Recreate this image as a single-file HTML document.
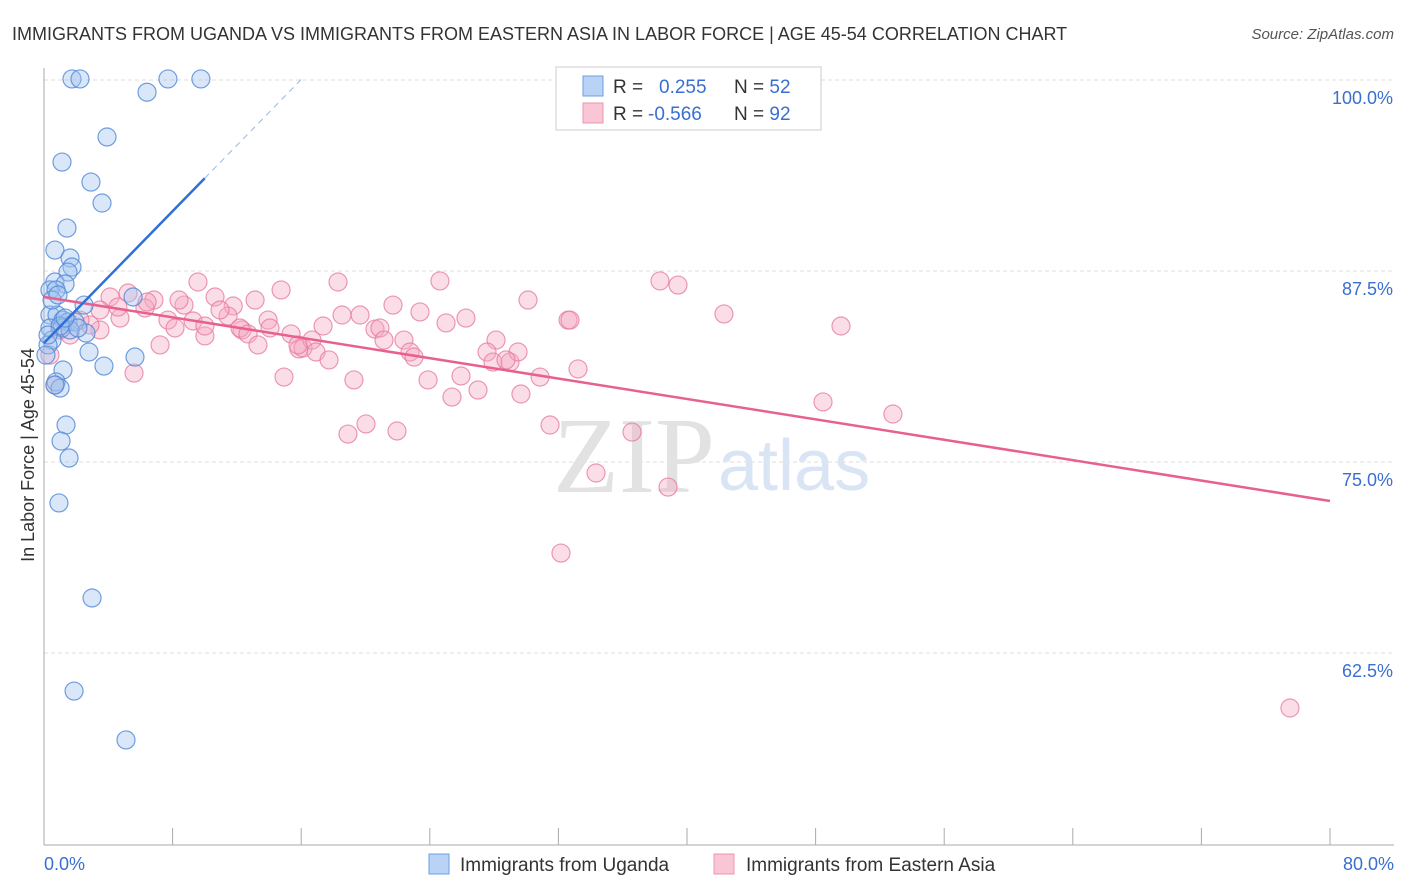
<!DOCTYPE html>
<html><head><meta charset="utf-8"><style>
body{margin:0;background:#fff;font-family:"Liberation Sans",sans-serif;}
svg{display:block}
</style></head><body>
<svg width="1406" height="892">
<text x="12" y="40" font-size="18" fill="#333">IMMIGRANTS FROM UGANDA VS IMMIGRANTS FROM EASTERN ASIA IN LABOR FORCE | AGE 45-54 CORRELATION CHART</text>
<text x="1394" y="39" font-size="15" fill="#555" font-style="italic" text-anchor="end">Source: ZipAtlas.com</text>
<g id="grid"></g>
<line x1="44" y1="68" x2="44" y2="845" stroke="#aaa"/>
<line x1="44" y1="845" x2="1394" y2="845" stroke="#aaa"/>
<text x="715" y="492" font-size="108" fill="#e2e2e2" font-family="Liberation Serif,serif" text-anchor="end">ZIP</text>
<text x="718" y="490" font-size="72" fill="#d9e5f5">atlas</text>
<text transform="translate(34,455) rotate(-90)" font-size="18" fill="#333" text-anchor="middle">In Labor Force | Age 45-54</text>
<text x="44" y="870" font-size="18" fill="#3a6fd0">0.0%</text>
<text x="1394" y="870" font-size="18" fill="#3a6fd0" text-anchor="end">80.0%</text>
<g id="pts"></g>
<g>
<rect x="556" y="67" width="265" height="63" fill="#fff" stroke="#ccc"/>
<rect x="583" y="76" width="20" height="20" fill="#b8d3f5" stroke="#6e9ee0"/>
<rect x="583" y="103" width="20" height="20" fill="#f8c6d5" stroke="#ec94b0"/>
<text x="613" y="93" font-size="19" fill="#333">R = <tspan fill="#3a6fd0" x="659">0.255</tspan><tspan fill="#333" x="734">N = </tspan><tspan fill="#3a6fd0">52</tspan></text>
<text x="613" y="120" font-size="19" fill="#333">R = <tspan fill="#3a6fd0" x="648">-0.566</tspan><tspan fill="#333" x="734">N = </tspan><tspan fill="#3a6fd0">92</tspan></text>
</g>
<g>
<rect x="429" y="854" width="20" height="20" fill="#b8d3f5" stroke="#6e9ee0"/>
<text x="460" y="871" font-size="19" fill="#333">Immigrants from Uganda</text>
<rect x="714" y="854" width="20" height="20" fill="#f8c6d5" stroke="#ec94b0"/>
<text x="746" y="871" font-size="19" fill="#333">Immigrants from Eastern Asia</text>
</g>
</svg>
<script>
const yTicks=[100,87.5,75,62.5];
const yTickLabels=["100.0%","87.5%","75.0%","62.5%"];
const xTicks=[8,16,24,32,40,48,56,64,72,80];
const blueX=[1.74,2.24,7.71,9.76,6.41,3.92,1.12,2.92,3.61,1.43,0.68,1.62,1.74,1.49,0.68,1.31,0.37,0.75,5.54,2.49,0.37,0.81,1.18,1.49,1.93,0.37,1.12,2.61,0.50,2.80,5.66,3.73,1.18,0.75,1.00,1.37,1.06,1.56,0.93,2.99,1.87,5.10,0.25,1.62,1.00,2.11,0.68,0.12,1.31,0.50,0.87,0.25];
const blueY=[100.07,100.07,100.07,100.07,99.2,96.27,94.63,93.32,91.95,90.31,88.87,88.35,87.76,87.43,86.78,86.65,86.26,86.26,85.8,85.27,84.62,84.62,84.29,84.16,84.16,83.77,83.77,83.44,82.98,82.2,81.87,81.28,81.02,80.24,79.84,77.42,76.37,75.26,72.32,66.1,60.01,56.81,82.66,83.64,83.9,83.77,80.04,82.0,84.42,85.6,85.93,83.31];
const pinkX=[4.11,5.23,6.84,9.58,10.64,13.13,14.75,18.29,21.71,24.63,30.11,38.32,39.44,42.30,49.58,32.60,32.72,8.71,8.40,11.77,6.28,7.71,9.27,10.01,11.45,12.32,13.94,14.06,15.37,15.86,16.11,16.67,16.92,17.36,17.73,18.54,19.66,20.59,20.90,21.15,22.39,22.77,23.02,23.39,25.01,26.25,28.12,27.56,27.93,28.99,29.49,28.74,23.89,25.38,25.94,27.00,29.67,30.86,33.22,19.28,14.93,18.91,20.03,21.96,31.48,36.58,34.34,38.82,32.16,48.46,52.81,77.51,5.60,7.22,3.48,4.73,2.86,2.24,0.99,0.37,0.68,1.62,10.01,12.19,12.69,6.41,10.95,4.60,3.48,13.31,15.80,8.15];
const pinkY=[85.8,86.06,85.6,86.78,85.8,85.6,86.26,86.78,85.27,86.85,85.6,86.85,86.58,84.69,83.9,84.29,84.29,85.27,85.6,85.21,85.08,84.29,84.23,83.25,84.55,83.64,84.29,83.77,83.38,82.4,82.46,82.98,82.2,83.9,81.68,84.62,84.62,83.7,83.77,82.98,82.98,82.2,81.87,84.82,84.1,84.42,82.98,82.2,81.54,81.54,82.2,81.68,80.37,79.25,80.63,79.71,79.45,80.56,81.09,80.37,80.56,76.83,77.49,77.03,77.42,76.96,74.28,73.36,69.04,78.93,78.14,58.9,80.82,82.66,83.64,84.42,83.97,84.29,83.64,82.0,80.04,83.31,83.9,83.77,83.38,85.47,84.95,85.14,84.95,82.66,82.66,83.77];
const pinkTrend=[85.8,72.45];
const blueTrend=[82.79,1.078];
const X=v=>44+v*16.075, Y=v=>844-(v-50)*15.28;
const NS="http://www.w3.org/2000/svg";
const grid=document.getElementById('grid'), pts=document.getElementById('pts');
function mk(tag,attrs,parent){const e=document.createElementNS(NS,tag);for(const k in attrs)e.setAttribute(k,attrs[k]);parent.appendChild(e);return e;}
yTicks.forEach((t,i)=>{
 const l=mk('line',{x1:44,x2:1394,y1:Y(t),y2:Y(t),stroke:'#ddd','stroke-dasharray':'4 3'},grid);
 
 
 const tx=mk('text',{x:1393,y:Y(t)+24,'font-size':18,fill:'#3a6fd0','text-anchor':'end'},grid);
 tx.textContent=yTickLabels[i];
 
 
});
xTicks.forEach(t=>{
 const l=mk('line',{x1:X(t),x2:X(t),y1:828,y2:845,stroke:'#aaa'},grid);
 
 
});
pinkX.forEach((x,i)=>{
 const c=mk('circle',{cx:X(x),cy:Y(pinkY[i]),r:9,fill:'rgba(245,170,195,0.4)',stroke:'rgba(230,120,155,0.75)','stroke-width':1.2},pts);
 
 
});
blueX.forEach((x,i)=>{
 const c=mk('circle',{cx:X(x),cy:Y(blueY[i]),r:9,fill:'rgba(160,195,240,0.4)',stroke:'rgba(80,135,215,0.8)','stroke-width':1.2},pts);
 
 
});
const pl=mk('line',{x1:X(0),y1:Y(pinkTrend[0]),x2:X(80),y2:Y(pinkTrend[1]),stroke:'#e8608e','stroke-width':2.5},pts);


const [ba,bb]=blueTrend;
const bl=mk('line',{x1:X(0),y1:Y(ba),x2:X(10),y2:Y(ba+bb*10),stroke:'#2f6fd6','stroke-width':2.5},pts);


const xe=(100.2-ba)/bb;
const bd=mk('line',{x1:X(10),y1:Y(ba+bb*10),x2:X(xe),y2:Y(100.2),stroke:'#9bb8e0','stroke-width':1,'stroke-dasharray':'6 5'},pts);


</script>
</body></html>
